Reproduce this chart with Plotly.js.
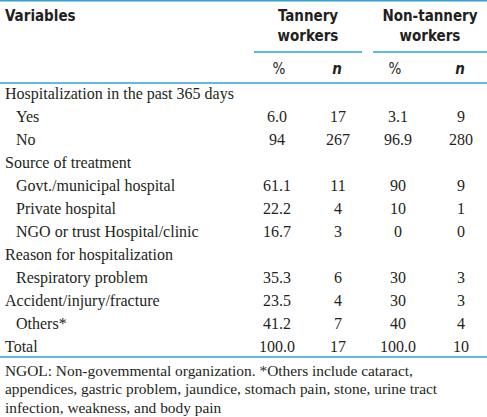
<!DOCTYPE html>
<html>
<head>
<meta charset="utf-8">
<script src="https://cdn.plot.ly/plotly-3.0.1.min.js"></script>
<style>html,body{margin:0;padding:0;background:#fff;}</style>
</head>
<body>
<div id="chart" style="width:487px;height:417px;"></div>
<script>
// ---- data ----
const rowLabels = [
  "Hospitalization in the past 365 days", "Yes", "No",
  "Source of treatment", "Govt./municipal hospital", "Private hospital", "NGO or trust Hospital/clinic",
  "Reason for hospitalization", "Respiratory problem", "Accident/injury/fracture", "Others*", "Total"
];
const rowLevel = [0,1,1,0,1,1,1,0,1,0,1,0];
const tanneryPct = ["", "6.0", "94", "", "61.1", "22.2", "16.7", "", "35.3", "23.5", "41.2", "100.0"];
const tanneryN   = ["", "17", "267", "", "11", "4", "3", "", "6", "4", "7", "17"];
const nonTanPct  = ["", "3.1", "96.9", "", "90", "10", "0", "", "30", "30", "40", "100.0"];
const nonTanN    = ["", "9", "280", "", "9", "1", "0", "", "3", "3", "4", "10"];
const groupHeaders = ["Tannery<br>workers", "Non-tannery<br>workers"];
const subHeaders = ["%", "<b><i>n</i></b>", "%", "<b><i>n</i></b>"];
const firstHeader = "Variables";
const footnote = [
  "NGOL: Non-govemmental organization. *Others include cataract,",
  "appendices, gastric problem, jaundice, stomach pain, stone, urine tract",
  "infection, weakness, and body pain"
];

// ---- layout constants ----
const W = 487, H = 417;
const blue = "#2ea3d3";
const ink = "#231f20";
const serif = "Liberation Serif, Times New Roman, serif";
const narrow = "Liberation Sans Narrow, DejaVu Sans Condensed, Arial Narrow, sans-serif";
const rowY0 = 95, rowDY = 23;
const colX = [277, 338, 398, 461];
const subX = [279, 337, 395, 460];
const groupX = [308, 430];
const rowYs = rowLabels.map((_, i) => rowY0 + i * rowDY);

const bodyFont = {family: serif, size: 16, color: ink};
const footFont = {family: serif, size: 15.4, color: ink};
const headFont = {family: narrow, size: 15, color: ink, weight: "bold"};

const traces = [];
// labels
traces.push({
  type: "scatter", mode: "text",
  x: rowLevel.map(l => l ? 16 : 5), y: rowYs,
  text: rowLabels, textposition: "middle right", textfont: bodyFont,
  hoverinfo: "skip"
});
// value columns
[tanneryPct, tanneryN, nonTanPct, nonTanN].forEach((col, j) => {
  traces.push({
    type: "scatter", mode: "text",
    x: col.map(() => colX[j]), y: rowYs,
    text: col, textposition: "middle center", textfont: bodyFont,
    hoverinfo: "skip"
  });
});
// headers
traces.push({
  type: "scatter", mode: "text",
  x: [5], y: [17], text: [firstHeader], textposition: "middle right",
  textfont: headFont, hoverinfo: "skip"
});
traces.push({
  type: "scatter", mode: "text",
  x: groupX, y: [27, 27], text: groupHeaders, textposition: "middle center",
  textfont: headFont, hoverinfo: "skip"
});
traces.push({
  type: "scatter", mode: "text",
  x: subX, y: subX.map(() => 70), text: subHeaders, textposition: "middle center",
  textfont: Object.assign({}, headFont, {weight: "normal"}), hoverinfo: "skip"
});
// footnote
traces.push({
  type: "scatter", mode: "text",
  x: footnote.map(() => 5), y: footnote.map((_, i) => 372 + i * 18.5),
  text: footnote, textposition: "middle right", textfont: footFont,
  hoverinfo: "skip"
});

const line = (x0, x1, y) => ({type: "line", xref: "x", yref: "y", x0, x1, y0: y, y1: y,
  line: {color: blue, width: 1.5}});

const layout = {
  width: W, height: H,
  margin: {l: 0, r: 0, t: 0, b: 0},
  paper_bgcolor: "#fff", plot_bgcolor: "#fff",
  showlegend: false, hovermode: false,
  xaxis: {range: [0, W], visible: false, fixedrange: true},
  yaxis: {range: [H, 0], visible: false, fixedrange: true},
  shapes: [
    line(0, W, 0.8),
    line(254, 362, 52),
    line(373, W, 52),
    line(0, W, 83),
    line(0, W, 357)
  ]
};

Plotly.newPlot("chart", traces, layout, {staticPlot: true, displayModeBar: false});
</script>
</body>
</html>
